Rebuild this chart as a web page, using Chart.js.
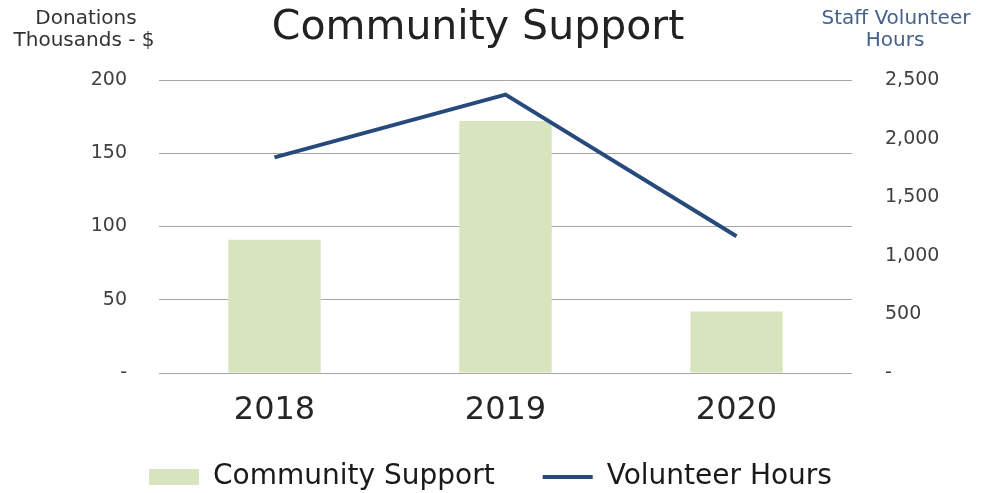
<!DOCTYPE html>
<html>
<head>
<meta charset="utf-8">
<script src="https://cdn.jsdelivr.net/npm/chart.js@4.4.1/dist/chart.umd.min.js"></script>
<style>
  html, body { margin: 0; padding: 0; background: #fff; }
  #wrap { width: 981px; height: 493px; }
</style>
</head>
<body>
<div id="wrap"><canvas id="myChart" width="981" height="493"></canvas></div>
<script>
// datos del gráfico
const years = ['2018', '2019', '2020'];
const donations = [91, 172, 42];           // miles de $
const volunteerHours = [1840, 2375, 1167]; // horas
const leftTicks = [0, 50, 100, 150, 200];
const rightTicks = [0, 500, 1000, 1500, 2000, 2500];

const FONT = "'DejaVu Sans', sans-serif";

// titulo y titulos de ejes dibujados sobre el canvas
const textosPlugin = {
    id: 'textos',
    afterLayout(chart) {
        // que las etiquetas del eje x no se recorten
        chart.scales.x.bottom = chart.height;
    },
    afterDraw(chart) {
        const ctx = chart.ctx;
        ctx.save();
        ctx.textAlign = 'center';
        ctx.textBaseline = 'alphabetic';

        ctx.fillStyle = '#222222';
        ctx.font = "41px " + FONT;
        ctx.fillText('Community Support', 478, 39);

        ctx.fillStyle = '#333333';
        ctx.font = "20px " + FONT;
        ctx.fillText('Donations', 86, 24);
        ctx.fillText('Thousands - $', 84, 46);

        ctx.fillStyle = '#44618a';
        ctx.fillText('Staff Volunteer', 896, 24);
        ctx.fillText('Hours', 895, 46);
        ctx.restore();
    }
};

function fmtMiles(v) {
    if (v === 0) return '-';
    return v.toLocaleString('en-US');
}

var ctx = document.getElementById('myChart').getContext('2d');
window.myChart = new Chart(ctx, {
    type: 'bar',
    data: {
        labels: years,
        datasets: [
            {
                type: 'line',
                label: 'Volunteer Hours',
                data: volunteerHours,
                yAxisID: 'y2',
                borderColor: '#264a7c',
                backgroundColor: '#264a7c',
                borderWidth: 4,
                pointRadius: 0,
                tension: 0,
                order: 0
            },
            {
                type: 'bar',
                label: 'Community Support',
                data: donations,
                yAxisID: 'y',
                backgroundColor: '#d7e4bd',
                barPercentage: 0.4,
                categoryPercentage: 1,
                order: 1
            }
        ]
    },
    options: {
        responsive: false,
        animation: false,
        layout: { padding: { top: 80, left: 0, right: 0, bottom: -8 } },
        plugins: {
            title: { display: false },
            tooltip: { enabled: false },
            legend: {
                position: 'bottom',
                reverse: true,
                labels: {
                    color: '#1a1a1a',
                    font: { family: FONT, size: 28 },
                    usePointStyle: true,
                    pointStyleWidth: 50,
                    boxHeight: 16,
                    padding: 48,
                    generateLabels(chart) {
                        const items = Chart.defaults.plugins.legend.labels.generateLabels(chart);
                        items.forEach(it => {
                            if (it.text === 'Volunteer Hours') {
                                it.pointStyle = 'line';
                                it.strokeStyle = '#264a7c';
                                it.lineWidth = 4;
                            } else {
                                it.pointStyle = 'rect';
                                it.strokeStyle = 'rgba(0,0,0,0)';
                                it.lineWidth = 0;
                            }
                        });
                        return items;
                    }
                }
            }
        },
        scales: {
            x: {
                grid: { display: false, drawTicks: false },
                border: { display: false },
                ticks: { color: '#262626', font: { family: FONT, size: 32 }, padding: 18 },
                afterFit(scale) {
                    scale.paddingLeft = 0; scale.paddingRight = 0;
                    const lh = scale.chart.legend ? scale.chart.legend.height : 0;
                    scale.height = 493 + 8 - 373 - lh;
                }
            },
            y: {
                position: 'left',
                min: 0, max: 200,
                afterBuildTicks(scale) { scale.ticks = leftTicks.map(v => ({ value: v })); },
                grid: { color: '#a6a6a6', lineWidth: 1, drawTicks: false },
                border: { display: false },
                ticks: {
                    color: '#404040',
                    font: { family: FONT, size: 19 },
                    padding: 32,
                    callback: v => fmtMiles(v)
                },
                afterFit(scale) { scale.width = 159; scale.paddingTop = 0; scale.paddingBottom = 0; }
            },
            y2: {
                position: 'right',
                min: 0, max: 2500,
                afterBuildTicks(scale) { scale.ticks = rightTicks.map(v => ({ value: v })); },
                grid: { display: false, drawTicks: false },
                border: { display: false },
                ticks: {
                    color: '#404040',
                    font: { family: FONT, size: 19 },
                    padding: 33,
                    callback: v => fmtMiles(v)
                },
                afterFit(scale) { scale.width = 129; scale.paddingTop = 0; scale.paddingBottom = 0; }
            }
        }
    },
    plugins: [textosPlugin]
});
</script>
</body>
</html>
